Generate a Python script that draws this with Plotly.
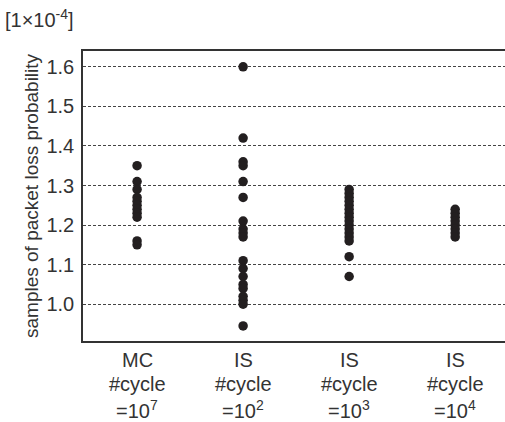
import plotly.graph_objects as go

# ---- data ----
positions = [0, 1, 2, 3]
label_line1 = ["MC", "IS", "IS", "IS"]
label_line2 = ["#cycle", "#cycle", "#cycle", "#cycle"]
label_line3 = ["=10<sup>7</sup>", "=10<sup>2</sup>", "=10<sup>3</sup>", "=10<sup>4</sup>"]

mc_1e7 = [1.35, 1.31, 1.29, 1.27, 1.26, 1.25, 1.24, 1.23, 1.22, 1.16, 1.15]
is_1e2 = [1.60, 1.42, 1.36, 1.35, 1.31, 1.27, 1.21, 1.19, 1.18, 1.17, 1.11,
          1.09, 1.07, 1.05, 1.04, 1.02, 1.01, 1.00, 0.945]
is_1e3 = [1.29, 1.28, 1.27, 1.26, 1.25, 1.24, 1.23, 1.22, 1.21, 1.20, 1.19,
          1.18, 1.17, 1.16, 1.12, 1.07]
is_1e4 = [1.24, 1.23, 1.22, 1.21, 1.20, 1.19, 1.18, 1.17]
series = [mc_1e7, is_1e2, is_1e3, is_1e4]

y_ticks = [1.0, 1.1, 1.2, 1.3, 1.4, 1.5, 1.6]
y_ticktext = ["1.0", "1.1", "1.2", "1.3", "1.4", "1.5", "1.6"]

FONT = "Liberation Sans, Arial, sans-serif"
TXT = "#333333"
DOT = "#231f20"

fig = go.Figure()
for pos, vals in zip(positions, series):
    fig.add_trace(go.Scatter(
        x=[pos] * len(vals), y=vals, mode="markers",
        marker=dict(size=9.5, color=DOT, line=dict(width=0)),
        showlegend=False, hoverinfo="y",
    ))

annotations = []
for pos, l1, l2, l3 in zip(positions, label_line1, label_line2, label_line3):
    for txt, shift in ((l1, -19), (l2, -43), (l3, -68)):
        annotations.append(dict(
            x=pos, xref="x", y=0, yref="paper", yshift=shift,
            text=txt, showarrow=False, xanchor="center", yanchor="middle",
            font=dict(family=FONT, size=20, color=TXT),
        ))

annotations.append(dict(
    x=0, xref="paper", xshift=-52, y=0.5, yref="paper",
    text="samples of packet loss probability", textangle=-90,
    showarrow=False, xanchor="center", yanchor="middle",
    font=dict(family=FONT, size=19, color=TXT),
))
annotations.append(dict(
    x=0, xref="paper", xshift=-80, y=1, yref="paper", yshift=18,
    text="[1×10<sup>-4</sup>]", showarrow=False,
    xanchor="left", yanchor="bottom",
    font=dict(family=FONT, size=20, color=TXT),
))

fig.update_layout(
    width=505, height=422,
    margin=dict(l=83, r=0, t=51, b=81),
    paper_bgcolor="white", plot_bgcolor="white",
    font=dict(family=FONT, size=20, color=TXT),
    annotations=annotations,
    xaxis=dict(
        range=[-0.51, 3.47], showgrid=False, zeroline=False,
        showticklabels=False, ticks="",
        showline=True, linecolor="#333333", linewidth=1.5, mirror=True,
    ),
    yaxis=dict(
        range=[0.907, 1.64], tickvals=y_ticks, ticktext=y_ticktext,
        showgrid=True, gridcolor="#444444", gridwidth=1, griddash="3px,2px",
        zeroline=False, ticks="", ticklabelstandoff=3,
        showline=True, linecolor="#333333", linewidth=1.5,
        tickfont=dict(family=FONT, size=20, color=TXT),
    ),
)

fig.write_html("out.html")
